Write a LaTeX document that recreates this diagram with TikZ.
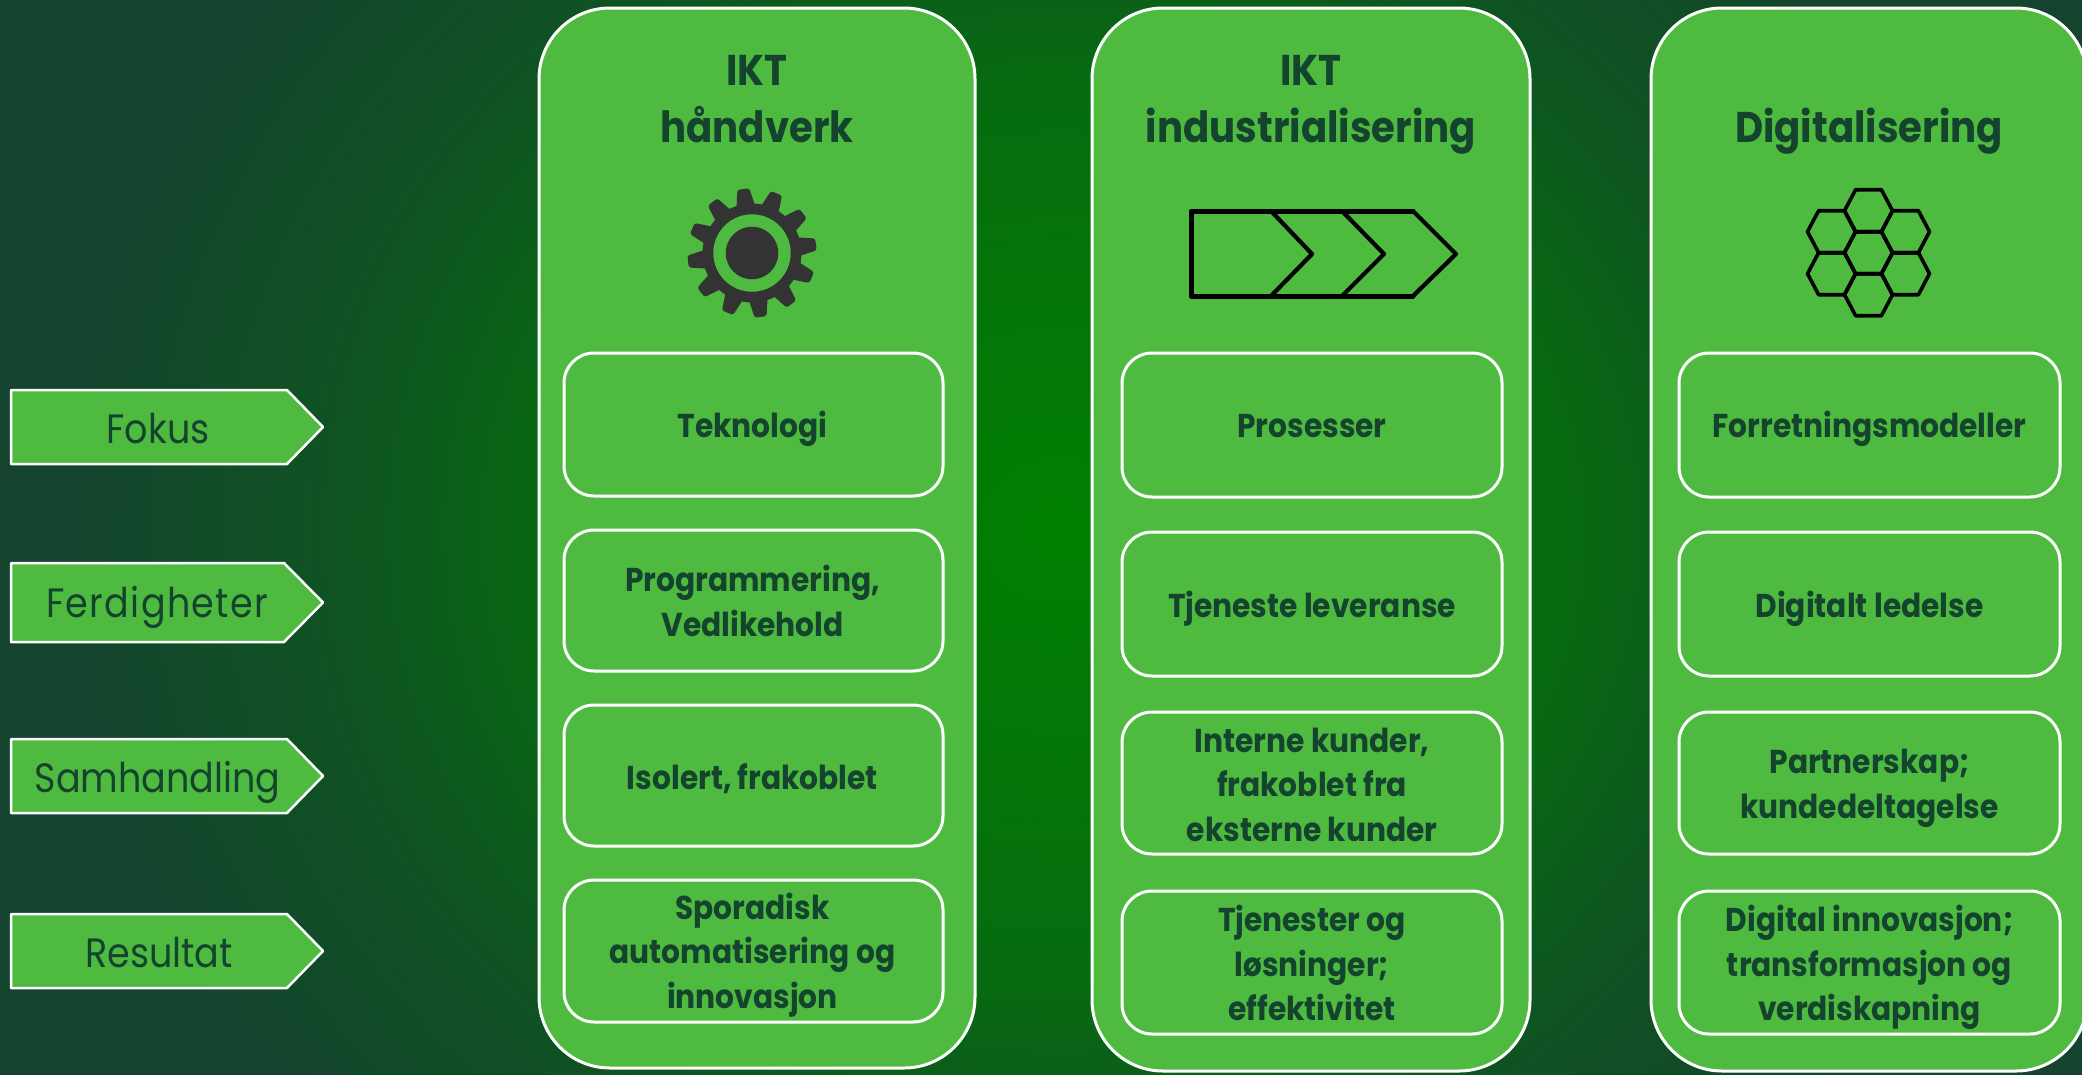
\documentclass[tikz,border=0pt]{standalone}
\usepackage{fontspec}
\setmainfont{Poppins}[BoldFeatures={FakeStretch=0.9},FakeStretch=0.89]
\definecolor{boxfill}{RGB}{78,187,64}
\definecolor{inkgreen}{RGB}{20,67,46}
\definecolor{geardark}{RGB}{51,51,51}
\pgfdeclareradialshading{bgglow}{\pgfpoint{0bp}{0bp}}{rgb(0bp)=(0,0.502,0);rgb(12.5bp)=(0.027,0.42,0.062);rgb(17.5bp)=(0.055,0.333,0.127);rgb(25bp)=(0.078,0.263,0.18);rgb(50bp)=(0.078,0.263,0.18)}
\tikzset{
  outerbox/.style={draw=white,line width=3pt,fill=boxfill,rounded corners=71pt},
  innerbox/.style={draw=white,line width=3pt,fill=boxfill,rounded corners=30pt},
  tagshape/.style={draw=white,line width=2.5pt,fill=boxfill,line join=round},
  boxtext/.style={anchor=base,align=center,text=inkgreen,inner sep=0pt,font=\fontsize{33}{44.5}\selectfont\bfseries},
  titletext/.style={anchor=base,align=center,text=inkgreen,inner sep=0pt,font=\fontsize{43}{57}\selectfont\bfseries},
  tagtext/.style={anchor=base,align=center,text=inkgreen,inner sep=0pt,font=\fontsize{41}{50}\selectfont},
  iconline/.style={draw=black,line join=round,line cap=round}
}
\newcommand{\tagarrow}[7]{% name, y top, y bottom, neck, cx, baseline, text
  \draw[tagshape] (11,#2) -- (#4,#2) -- (323,{(#2+#3)/2}) -- (#4,#3) -- (11,#3) -- cycle;
  \node[tagtext] (#1) at (#5,#6) {#7};
}
\newcommand{\ibox}[8]{% name, x0, y0, x1, y1, cx, last baseline, text
  \draw[innerbox] (#2,#3) rectangle (#4,#5);
  \node[boxtext] (#1) at (#6,#7) {#8};
}
\begin{document}
\begin{tikzpicture}[x=1pt,y=-1pt]
\useasboundingbox (0,0) rectangle (2082,1074);
\fill[inkgreen] (-6,-6) rectangle (2088,1080);
\begin{scope}
  \clip (-6,-6) rectangle (2100,1080);
  \shade[shading=bgglow] (1060,530) ellipse (1000 and 900);
\end{scope}
% columns
\draw[outerbox] (539,8) rectangle (975,1068);
\draw[outerbox] (1092,8) rectangle (1530,1071);
\draw[outerbox] (1651,8) rectangle (2087,1071);
% titles
\node[titletext] (t1) at (757,142) {IKT\\håndverk};
\node[titletext] (t2) at (1311,142) {IKT\\industrialisering};
\node[titletext] (t3) at (1869,142) {Digitalisering};
% tags
\tagarrow{fokus}{390}{464}{287}{158}{443}{Fokus}
\tagarrow{ferd}{563}{642}{284}{157}{617}{\addfontfeature{LetterSpace=3.2}Ferdigheter}
\tagarrow{samh}{739}{813}{287}{157.5}{792}{Samhandling}
\tagarrow{resu}{914}{988}{287}{159}{967}{Resultat}
% column 1
\ibox{a1}{564}{353}{943}{496}{752.5}{437}{Teknologi}
\ibox{a2}{564}{530}{943}{671}{752.5}{636}{Programmering,\\Vedlikehold}
\ibox{a3}{564}{705}{943}{846}{752.5}{789}{Isolert, frakoblet}
\ibox{a4}{564}{880}{943}{1022}{752.5}{1008}{Sporadisk\\automatisering og\\innovasjon}
% column 2
\ibox{b1}{1122}{353}{1502}{497}{1312}{437}{Prosesser}
\ibox{b2}{1122}{532}{1502}{676}{1312}{617}{Tjeneste leveranse}
\ibox{b3}{1122}{712}{1502}{854}{1312}{841}{Interne kunder,\\frakoblet fra\\eksterne kunder}
\ibox{b4}{1122}{891}{1502}{1034}{1312}{1020.5}{Tjenester og\\løsninger;\\effektivitet}
% column 3
\ibox{c1}{1679}{353}{2060}{497}{1869.5}{437}{Forretningsmodeller}
\ibox{c2}{1679}{532}{2060}{676}{1869.5}{617}{Digitalt ledelse}
\ibox{c3}{1679}{712}{2060}{854}{1869.5}{818}{Partnerskap;\\kundedeltagelse}
\ibox{c4}{1679}{891}{2060}{1034}{1869.5}{1020.5}{Digital innovasjon;\\transformasjon og\\verdiskapning}
% gear
\begin{scope}[shift={(752,253)}]
  \foreach \a in {0,30,...,330}{
    \fill[geardark,rounded corners=2.5pt,rotate=\a+7.7] (-9.5,-46) -- (-6,-64.5) -- (6,-64.5) -- (9.5,-46) -- cycle;
  }
  \fill[geardark] (0,0) circle (49.5);
  \fill[boxfill] (0,0) circle (38.7);
  \fill[geardark] (0,0) circle (26.3);
\end{scope}
% chevrons
\draw[iconline,line width=5pt] (1271,211) -- (1191,211) -- (1191,296) -- (1271,296);
\draw[iconline,line width=5pt] (1271,211) -- (1413,211) (1271,296) -- (1413,296);
\draw[iconline,line width=4.2pt] (1271,211) -- (1312,254) -- (1271,296);
\draw[iconline,line width=4.2pt] (1342,211) -- (1384,254) -- (1342,296);
\draw[iconline,line width=4.2pt] (1413,211) -- (1456,254) -- (1413,296);
% honeycomb
\foreach \hx/\hy in {0/210.7,0/252.7,0/294.7,-37/231.7,-37/273.7,37/231.7,37/273.7}{
  \draw[iconline,line width=3.6pt] ({1868.5+\hx-24},\hy) -- ({1868.5+\hx-12.9},{\hy-21}) -- ({1868.5+\hx+12.9},{\hy-21}) -- ({1868.5+\hx+24},\hy) -- ({1868.5+\hx+12.9},{\hy+21}) -- ({1868.5+\hx-12.9},{\hy+21}) -- cycle;
}
\end{tikzpicture}
\end{document}
